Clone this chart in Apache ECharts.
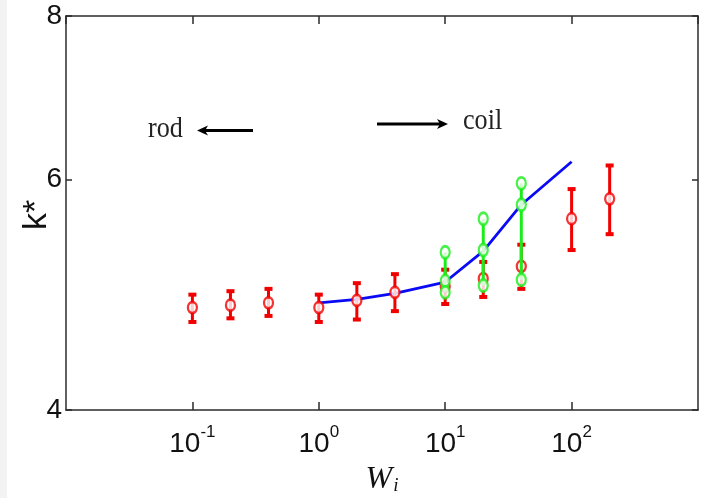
<!DOCTYPE html>
<html><head><meta charset="utf-8">
<script src="https://cdn.jsdelivr.net/npm/echarts@6/dist/echarts.min.js"></script>
<style>html,body{margin:0;padding:0;background:#fff}#c{width:706px;height:498px}</style>
</head><body><div id="c"></div>
<script>
// ---- data ----
const xRed = [0.1, 0.2, 0.4, 1, 2, 4, 10, 20, 40, 100, 200];
const redMean = [4.79, 4.81, 4.83, 4.79, 4.85, 4.92, 4.97, 5.04, 5.15, 5.60, 5.80];
const redLow  = [4.67, 4.70, 4.72, 4.67, 4.69, 4.76, 4.82, 4.88, 4.95, 5.30, 5.45];
const redHigh = [4.90, 4.93, 4.95, 4.90, 5.00, 5.08, 5.12, 5.19, 5.35, 5.90, 6.15];
const xBlue = [1, 2, 4, 10, 20, 40, 100];
const blueVals = [4.83, 4.86, 4.91, 5.01, 5.29, 5.74, 6.19];
const xGreen = [10, 20, 40];
const greenTop = [5.28, 5.60, 5.96];
const greenMid = [5.02, 5.30, 5.74];
const greenBottom = [4.92, 4.98, 5.03];
const yTickValues = [4, 6, 8];
const xLabelExp = {'-1': '-1', '0': '0', '1': '1', '2': '2'};

const RED = '#f20000', GREEN = '#1aee1a', BLUE = '#0a0af5', AX = '#2b2b2b';
const chart = echarts.init(document.getElementById('c'), null, {renderer: 'canvas'});

const axisLineStyle = {lineStyle: {color: AX, width: 1.5}};
const sansN = '"Liberation Sans Narrow","Liberation Sans",Arial,sans-serif';
const serif = '"Liberation Serif","Times New Roman",serif';

function errRender(color, caps) {
  return function (params, api) {
    const x = api.value(0), lo = api.value(1), hi = api.value(2);
    const p1 = api.coord([x, hi]), p2 = api.coord([x, lo]);
    const ch = [{type: 'line', shape: {x1: p1[0], y1: p1[1], x2: p2[0], y2: p2[1]},
      style: {stroke: color, lineWidth: 3}}];
    if (caps) {
      ch.push({type: 'rect', shape: {x: p1[0] - 4, y: p1[1] - 2, width: 8, height: 4}, style: {fill: color}});
      ch.push({type: 'rect', shape: {x: p2[0] - 4, y: p2[1] - 2, width: 8, height: 4}, style: {fill: color}});
    }
    return {type: 'group', children: ch};
  };
}

const greenPts = [];
xGreen.forEach((x, i) => { greenPts.push([x, greenTop[i]], [x, greenMid[i]], [x, greenBottom[i]]); });

function arrow(x1, x2, y, left) {
  const tip = left ? x1 : x2;
  const dir = left ? 1 : -1;
  return [
    {type: 'line', shape: {x1: x1 + (left ? 6 : 0), y1: y, x2: x2 - (left ? 0 : 6), y2: y}, style: {stroke: '#000', lineWidth: 3.2}},
    {type: 'polygon', shape: {points: [[tip, y], [tip + dir * 11, y - 5], [tip + dir * 8, y], [tip + dir * 11, y + 5]]}, style: {fill: '#000'}}
  ];
}

chart.setOption({
  animation: false,
  backgroundColor: '#fff',
  grid: {left: 66, top: 16, right: 8, bottom: 88, containLabel: false, outerBoundsMode: 'none'},
  xAxis: [{
    type: 'log', logBase: 10, min: 0.01, max: 1000, position: 'bottom',
    axisLine: axisLineStyle,
    axisTick: {inside: true, length: 8, lineStyle: {color: AX, width: 1.5}},
    splitLine: {show: false},
    minorTick: {show: false},
    axisLabel: {
      showMinLabel: false, showMaxLabel: false, margin: 14,
      formatter: function (v) {
        const key = String(Math.round(Math.log10(v)));
        const e = xLabelExp[key];
        return e === undefined ? '' : '{b|10}{s|' + e + '}';
      },
      rich: {
        b: {fontSize: 28, fontFamily: sansN, color: '#111', lineHeight: 30},
        s: {fontSize: 17, fontFamily: sansN, color: '#111', padding: [0, 0, 24, 0]}
      }
    },
    name: '{w|W}{i|i}', nameLocation: 'middle', nameGap: 48,
    nameTextStyle: {rich: {
      w: {fontSize: 32, fontStyle: 'italic', fontFamily: serif, color: '#111'},
      i: {fontSize: 19, fontStyle: 'italic', fontFamily: serif, color: '#111', padding: [14, 0, 0, 1]}
    }}
  }, {
    type: 'log', logBase: 10, min: 0.01, max: 1000, position: 'top',
    axisLine: axisLineStyle,
    axisTick: {inside: true, length: 8, lineStyle: {color: AX, width: 1.5}},
    axisLabel: {show: false}, splitLine: {show: false}
  }],
  yAxis: [{
    type: 'log', logBase: 10, min: 4, max: 8, position: 'left',
    axisLine: {show: true, lineStyle: {color: AX, width: 1.5}},
    axisTick: {inside: true, length: 6, customValues: yTickValues, lineStyle: {color: AX, width: 1.5}},
    axisLabel: {customValues: yTickValues, margin: 4, fontSize: 28, fontFamily: sansN, color: '#111',
      formatter: v => String(Math.round(v))},
    splitLine: {show: false}
  }, {
    type: 'log', logBase: 10, min: 4, max: 8, position: 'right',
    axisLine: {show: true, lineStyle: {color: AX, width: 1.5}},
    axisTick: {inside: true, length: 6, customValues: yTickValues, lineStyle: {color: AX, width: 1.5}},
    axisLabel: {show: false}, splitLine: {show: false}
  }],
  series: [
    {type: 'line', data: xBlue.map((x, i) => [x, blueVals[i]]), symbol: 'none',
      lineStyle: {color: BLUE, width: 2.8}, z: 1},
    {type: 'custom', data: xRed.map((x, i) => [x, redLow[i], redHigh[i]]),
      encode: {x: 0, y: [1, 2]}, renderItem: errRender(RED, true), z: 2},
    {type: 'scatter', data: xRed.map((x, i) => [x, redMean[i]]), symbol: 'circle', symbolSize: [9, 11],
      itemStyle: {color: '#fff', borderColor: RED, borderWidth: 2.5}, z: 3},
    {type: 'custom', data: xGreen.map((x, i) => [x, greenBottom[i], greenTop[i]]),
      encode: {x: 0, y: [1, 2]}, renderItem: errRender(GREEN, false), z: 4},
    {type: 'scatter', data: greenPts, symbol: 'circle', symbolSize: [9, 12],
      itemStyle: {color: '#fff', borderColor: GREEN, borderWidth: 2.5}, z: 5}
  ],
  graphic: [
    {type: 'rect', left: 0, top: 0, shape: {width: 7, height: 498}, style: {fill: '#f3f3f3'}, z: -10},
    {type: 'text', x: 37, y: 215, rotation: Math.PI / 2,
      style: {text: 'k*', fontSize: 34, fontFamily: '"Liberation Sans",Arial,sans-serif', fill: '#111', align: 'center', verticalAlign: 'middle'}},
    {type: 'text', x: 148, y: 115, scaleX: 0.9, style: {text: 'rod', fontSize: 29, fontFamily: serif, fill: '#222'}},
    {type: 'text', x: 463, y: 107, scaleX: 0.9, style: {text: 'coil', fontSize: 29, fontFamily: serif, fill: '#222'}},
    {type: 'group', children: arrow(197, 253, 130.5, true)},
    {type: 'group', children: arrow(377, 448, 124, false)}
  ]
});
</script></body></html>
